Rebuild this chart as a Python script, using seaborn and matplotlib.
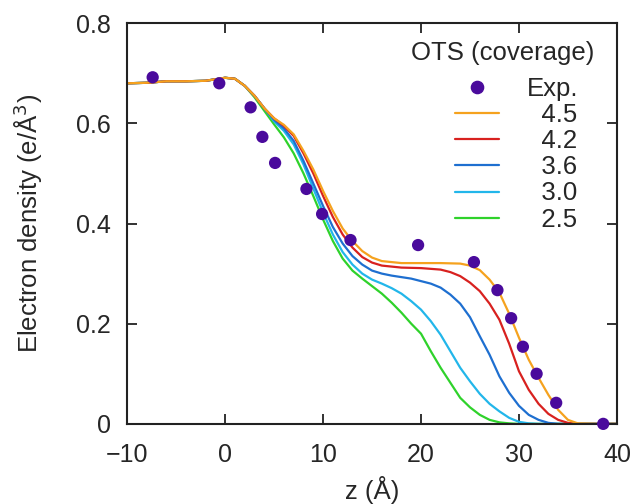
"""
Electron density profiles of OTS layers at several coverages, with experiment
"""

import numpy as np
import pandas as pd
import matplotlib
matplotlib.use('Agg')
import matplotlib.pyplot as plt
from matplotlib.lines import Line2D
import seaborn as sns

# Experimental points
exp_z = [-7.4, -0.6, 2.6, 3.8, 5.1, 8.3, 9.9, 12.8, 19.7, 25.4, 27.8, 29.2, 30.4, 31.8, 33.8, 38.6]
exp_rho = [0.692, 0.680, 0.632, 0.573, 0.521, 0.469, 0.419, 0.367, 0.357, 0.323,
           0.267, 0.211, 0.154, 0.100, 0.042, 0.0]

# Simulated profiles
z_45 = [-10, -8, -6, -4, -2, -1, 0, 1, 2, 3, 4, 5, 6, 7, 8, 9, 10, 11, 12, 13, 14, 15, 16, 18,
        20, 22, 24, 25, 26, 27, 28, 29, 30, 31, 32, 33, 34, 35, 36, 38, 40]
rho_45 = [0.680, 0.681, 0.684, 0.684, 0.685, 0.688, 0.691, 0.689, 0.675, 0.655, 0.630, 0.610,
          0.597, 0.578, 0.545, 0.508, 0.465, 0.425, 0.390, 0.365, 0.345, 0.332, 0.325, 0.321,
          0.321, 0.321, 0.320, 0.316, 0.307, 0.288, 0.262, 0.220, 0.172, 0.128, 0.092, 0.058,
          0.028, 0.008, 0.001, 0.0, 0.0]

z_42 = [-10, -8, -6, -4, -2, -1, 0, 1, 2, 3, 4, 5, 6, 7, 8, 9, 10, 11, 12, 13, 14, 15, 16, 18,
        20, 22, 23, 24, 25, 26, 27, 28, 29, 30, 31, 32, 33, 34, 35, 36, 40]
rho_42 = [0.680, 0.681, 0.684, 0.684, 0.685, 0.688, 0.691, 0.689, 0.675, 0.655, 0.630, 0.610,
          0.595, 0.575, 0.540, 0.500, 0.455, 0.413, 0.378, 0.352, 0.333, 0.322, 0.316, 0.312,
          0.311, 0.308, 0.303, 0.295, 0.282, 0.265, 0.240, 0.208, 0.160, 0.105, 0.068, 0.040,
          0.020, 0.008, 0.002, 0.0, 0.0]

z_36 = [-10, -8, -6, -4, -2, -1, 0, 1, 2, 3, 4, 5, 6, 7, 8, 9, 10, 11, 12, 13, 14, 15, 16, 17,
        18, 19, 20, 21, 22, 23, 24, 25, 26, 27, 28, 29, 30, 31, 32, 33, 34, 40]
rho_36 = [0.680, 0.681, 0.684, 0.684, 0.685, 0.688, 0.691, 0.689, 0.675, 0.655, 0.630, 0.607,
          0.590, 0.565, 0.525, 0.480, 0.435, 0.393, 0.360, 0.335, 0.318, 0.306, 0.300, 0.296,
          0.293, 0.290, 0.285, 0.280, 0.272, 0.258, 0.240, 0.213, 0.175, 0.138, 0.095, 0.062,
          0.036, 0.018, 0.008, 0.002, 0.0, 0.0]

z_30 = [-10, -8, -6, -4, -2, -1, 0, 1, 2, 3, 4, 5, 6, 7, 8, 9, 10, 11, 12, 13, 14, 15, 16, 17,
        18, 19, 20, 21, 22, 23, 24, 25, 26, 27, 28, 29, 30, 31, 32, 40]
rho_30 = [0.680, 0.681, 0.684, 0.684, 0.685, 0.688, 0.691, 0.689, 0.675, 0.655, 0.630, 0.604,
          0.585, 0.558, 0.518, 0.470, 0.422, 0.378, 0.343, 0.318, 0.300, 0.288, 0.280, 0.271,
          0.260, 0.245, 0.228, 0.205, 0.178, 0.145, 0.112, 0.085, 0.060, 0.040, 0.025, 0.012,
          0.004, 0.001, 0.0, 0.0]

z_25 = [-10, -8, -6, -4, -2, -1, 0, 1, 2, 3, 4, 5, 6, 7, 8, 9, 10, 11, 12, 13, 14, 15, 16, 17,
        18, 19, 20, 21, 22, 23, 24, 25, 26, 27, 28, 29, 30, 40]
rho_25 = [0.680, 0.681, 0.684, 0.684, 0.685, 0.688, 0.691, 0.689, 0.675, 0.652, 0.625, 0.598,
          0.572, 0.540, 0.500, 0.455, 0.408, 0.365, 0.330, 0.306, 0.290, 0.275, 0.260, 0.242,
          0.222, 0.200, 0.180, 0.145, 0.112, 0.082, 0.052, 0.033, 0.018, 0.008, 0.003, 0.001,
          0.0, 0.0]

coverages = ['4.5', '4.2', '3.6', '3.0', '2.5']
colors = {'4.5': '#f5a21e', '4.2': '#d8211f', '3.6': '#1e6fd0',
          '3.0': '#22b6ea', '2.5': '#2fd22b'}
exp_color = '#4a0a9c'

xticks = [-10, 0, 10, 20, 30, 40]
yticks = [0, 0.2, 0.4, 0.6, 0.8]
ytick_labels = ['0', '0.2', '0.4', '0.6', '0.8']

profiles = {'4.5': (z_45, rho_45), '4.2': (z_42, rho_42), '3.6': (z_36, rho_36),
            '3.0': (z_30, rho_30), '2.5': (z_25, rho_25)}

sns.set_style("ticks")
plt.rcParams['font.family'] = ['Liberation Sans', 'DejaVu Sans']

fig = plt.figure(figsize=(6.36, 5.04), dpi=100)
ax = fig.add_axes([0.2, 0.159, 0.77, 0.795])

# draw lowest coverage first so 4.5 ends on top
for cov in coverages[::-1]:
    z, rho = profiles[cov]
    df = pd.DataFrame({'z': z, 'rho': rho})
    sns.lineplot(data=df, x='z', y='rho', color=colors[cov], linewidth=1.6,
                 sort=False, estimator=None, ax=ax, legend=False)

exp_df = pd.DataFrame({'z': exp_z, 'rho': exp_rho})
sns.scatterplot(data=exp_df, x='z', y='rho', color=exp_color, s=78, edgecolor='none',
                ax=ax, zorder=5, clip_on=False, legend=False)

ax.set_xlim(-10, 40)
ax.set_ylim(0, 0.8)
ax.set_xticks(xticks)
ax.set_yticks(yticks)
ax.set_yticklabels(ytick_labels)
ax.tick_params(direction='in', length=7.5, width=1.3, labelsize=18, top=True, right=True,
               color='#222222')
ax.tick_params(axis='x', pad=13.5)
ax.tick_params(axis='y', pad=11.5)
for sp in ax.spines.values():
    sp.set_linewidth(1.5)
    sp.set_color('#222222')

ax.set_xlabel('z (Å)', fontsize=18.5)
ax.set_ylabel('Electron density (e/Å$^3$)', fontsize=18.5)
ax.xaxis.set_label_coords(0.5, -0.13)
ax.yaxis.set_label_coords(-0.167, 0.5)

# legend: title as its own text, entries right-aligned with figure spaces
ax.text(0.767, 0.926, 'OTS (coverage)', transform=ax.transAxes, fontsize=18.5,
        ha='center', va='center')
handles = [Line2D([], [], marker='o', linestyle='none', color=exp_color, markersize=8.8)]
handles += [Line2D([], [], color=colors[c], linewidth=1.6) for c in coverages]
labels = ['Exp.'] + ['\u2007' + c for c in coverages]
leg = ax.legend(handles, labels, loc='upper left', bbox_to_anchor=(0.669, 0.865),
                frameon=False, fontsize=18.5, handlelength=1.7, handletextpad=1.1,
                labelspacing=0.08, borderpad=0, borderaxespad=0)

fig.savefig('out.png', dpi=100)
